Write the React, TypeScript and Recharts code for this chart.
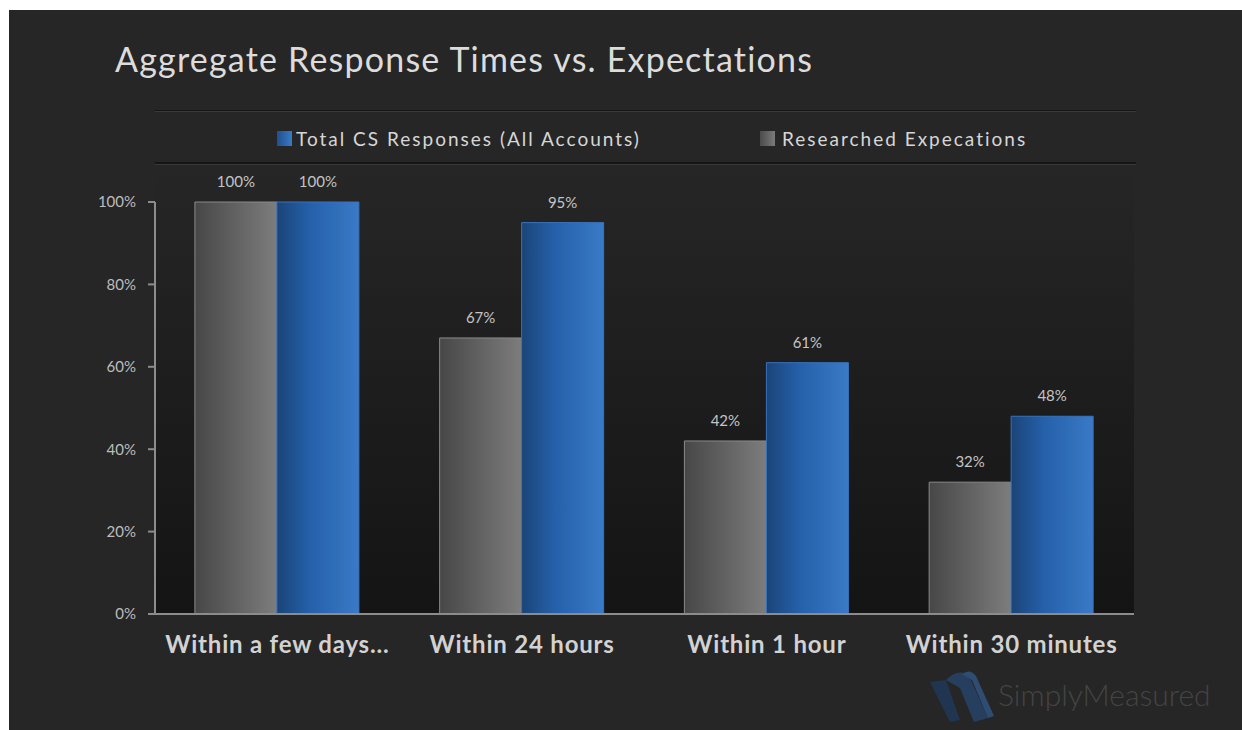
import React from "react";
import { BarChart, Bar, XAxis, YAxis, LabelList } from "recharts";

const categories = [
  "Within a few days...",
  "Within 24 hours",
  "Within 1 hour",
  "Within 30 minutes"
];
const researchedExpectations = [100, 67, 42, 32];
const totalCsResponses = [100, 95, 61, 48];
const yTicks = [0, 20, 40, 60, 80, 100];

const data = categories.map((name, i) => ({
  name,
  researched: researchedExpectations[i],
  total: totalCsResponses[i]
}));

const font = "Lato, 'Open Sans', sans-serif";

const legendItems = [
  {
    label: "Total CS Responses (All Accounts)",
    swatch: "linear-gradient(90deg, #1f4f8f, #3a7ac6)",
    gap: 4
  },
  {
    label: "Researched Expecations",
    swatch: "linear-gradient(90deg, #4c4c4c, #7a7a7a)",
    gap: 7
  }
];

function ChartLegend() {
  return (
    <div
      style={{
        position: "absolute",
        left: 155,
        top: 111,
        width: 981,
        height: 53,
        boxSizing: "border-box",
        paddingLeft: 122,
        paddingTop: 3,
        borderTop: "1px solid #3a3a3a",
        borderBottom: "2px solid #151515",
        boxShadow: "0 1px 0 #3a3a3a, 0 -1px 0 #151515",
        display: "flex",
        alignItems: "center",
        gap: 119,
        fontFamily: font,
        fontSize: 19,
        letterSpacing: 2,
        color: "#d6d6d6"
      }}
    >
      {legendItems.map((item) => (
        <span key={item.label} style={{ display: "flex", alignItems: "center" }}>
          <span
            style={{
              width: 15,
              height: 15,
              background: item.swatch,
              marginRight: item.gap,
              display: "inline-block"
            }}
          />
          {item.label}
        </span>
      ))}
    </div>
  );
}

function Logo() {
  return (
    <svg
      width={70}
      height={56}
      style={{ position: "absolute", left: 928, top: 668 }}
    >
      <path d="M2 14 L18 12 L32 52 L22 54 Z" fill="#1f3550" />
      <path d="M18 12 Q32 -2 42 10 L60 50 L46 54 L32 20 Z" fill="#263f5f" />
      <path d="M34 6 Q42 0 48 8 L66 48 L60 50 L44 12 Z" fill="#2f4d72" />
    </svg>
  );
}

export default function App() {
  return (
    <div
      style={{
        position: "fixed",
        left: 0,
        top: 0,
        width: 1242,
        height: 730,
        background: "#ffffff",
        overflow: "hidden"
      }}
    >
      <div
        style={{
          position: "absolute",
          left: 9,
          top: 10,
          right: 0,
          bottom: 0,
          background: "#262626"
        }}
      />
      {/* plot area backdrop */}
      <div
        style={{
          position: "absolute",
          left: 155,
          top: 168,
          width: 979,
          height: 446,
          background: "linear-gradient(#262626, #141414)"
        }}
      />
      <div
        style={{
          position: "absolute",
          left: 115,
          top: 38,
          fontFamily: font,
          fontSize: 34,
          letterSpacing: 1.2,
          color: "#dcdcdc"
        }}
      >
        Aggregate Response Times vs. Expectations
      </div>
      <ChartLegend />
      <div style={{ position: "absolute", left: 0, top: 0 }}>
        <BarChart
          width={1242}
          height={730}
          data={data}
          margin={{ top: 202, right: 108, bottom: 0, left: 95 }}
          barCategoryGap="16.3%"
          barGap={0}
        >
          <defs>
            <linearGradient id="grayFill" x1="0" y1="0" x2="1" y2="0">
              <stop offset="0%" stopColor="#474747" />
              <stop offset="100%" stopColor="#7d7d7d" />
            </linearGradient>
            <linearGradient id="blueFill" x1="0" y1="0" x2="1" y2="0">
              <stop offset="0%" stopColor="#1b4478" />
              <stop offset="40%" stopColor="#2560aa" />
              <stop offset="100%" stopColor="#3a7ac6" />
            </linearGradient>
          </defs>
          <XAxis
            dataKey="name"
            height={116}
            tickLine={false}
            tickSize={0}
            axisLine={{ stroke: "#8c8c8c", strokeWidth: 2 }}
            tickMargin={22}
            interval={0}
            tick={{
              fill: "#d2d2d2",
              fontFamily: font,
              fontSize: 24,
              fontWeight: 700,
              letterSpacing: 0.8
            }}
          />
          <YAxis
            width={60}
            domain={[0, 100]}
            ticks={yTicks}
            tickFormatter={(v: number) => `${v}%`}
            axisLine={{ stroke: "#8c8c8c", strokeWidth: 2 }}
            tickLine={{ stroke: "#8c8c8c", strokeWidth: 2 }}
            tickSize={7}
            tickMargin={12}
            tick={{ fill: "#bdbdbd", fontFamily: font, fontSize: 15 }}
          />
          <Bar
            dataKey="researched"
            fill="url(#grayFill)"
            stroke="#8a8a8a"
            strokeWidth={1}
            isAnimationActive={false}
          >
            <LabelList
              dataKey="researched"
              position="top"
              offset={15}
              formatter={(v: number) => `${v}%`}
              fill="#c4c4c4"
              fontFamily={font}
              fontSize={15}
            />
          </Bar>
          <Bar
            dataKey="total"
            fill="url(#blueFill)"
            stroke="#3873bd"
            strokeWidth={1}
            isAnimationActive={false}
          >
            <LabelList
              dataKey="total"
              position="top"
              offset={15}
              formatter={(v: number) => `${v}%`}
              fill="#c4c4c4"
              fontFamily={font}
              fontSize={15}
            />
          </Bar>
        </BarChart>
      </div>
      <Logo />
      <div
        style={{
          position: "absolute",
          left: 998,
          top: 676,
          fontFamily: font,
          fontWeight: 300,
          fontSize: 30,
          color: "#444444"
        }}
      >
        SimplyMeasured
      </div>
    </div>
  );
}
